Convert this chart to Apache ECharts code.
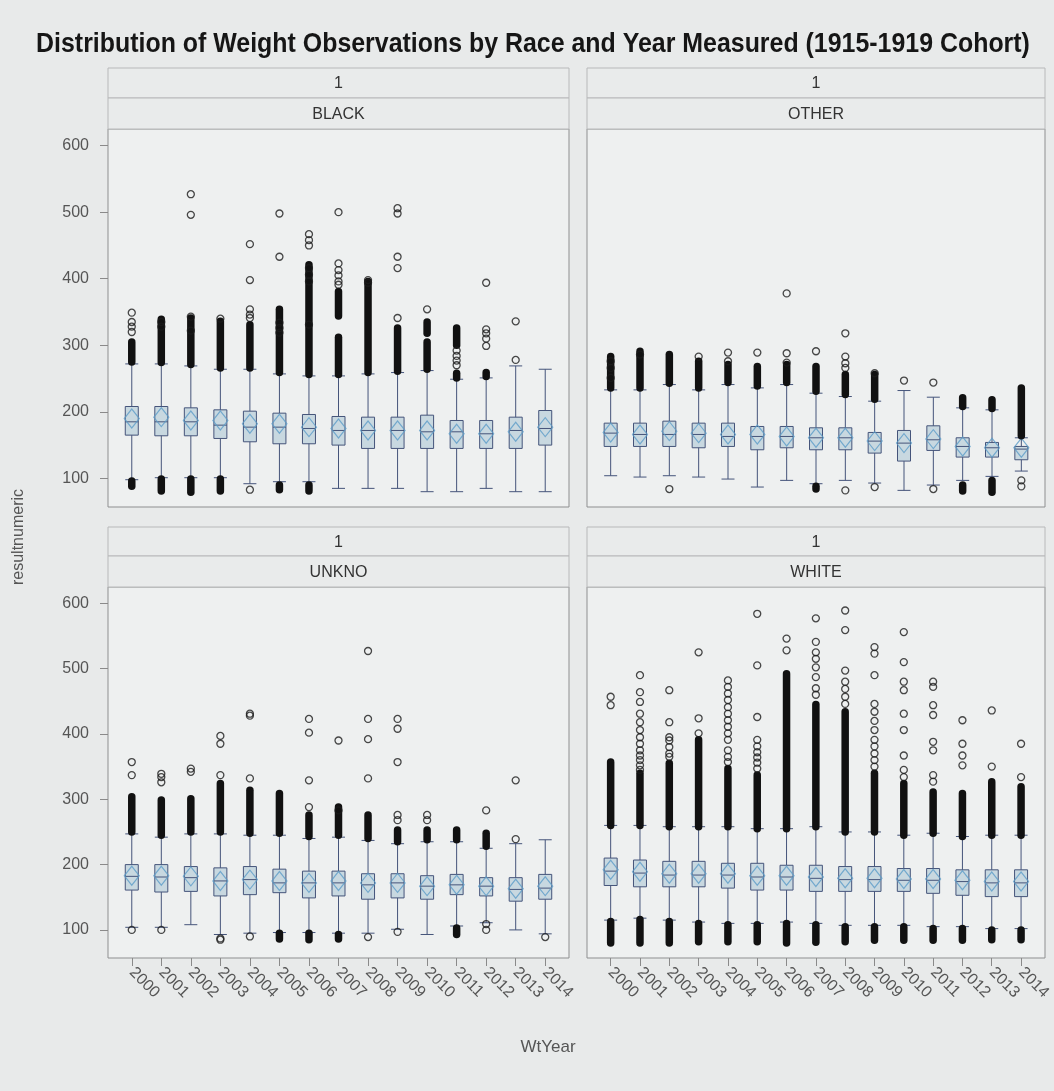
<!DOCTYPE html>
<html>
<head>
<meta charset="utf-8">
<title>Distribution of Weight Observations by Race and Year Measured</title>
<script src="https://cdn.jsdelivr.net/npm/echarts@6/dist/echarts.min.js"></script>
<style>
  html, body { margin: 0; padding: 0; background: #e8eaea; }
  #chart { width: 1054px; height: 1091px; }
</style>
</head>
<body>
<div id="chart"></div>
<script>
// ---- data -------------------------------------------------------------
const years = ['2000','2001','2002','2003','2004','2005','2006','2007','2008','2009','2010','2011','2012','2013','2014'];
const yTicks = [100, 200, 300, 400, 500, 600];
const cohortLabel = '1';
const panelNames = ['BLACK', 'OTHER', 'UNKNO', 'WHITE'];
const chartTitle = 'Distribution of Weight Observations by Race and Year Measured (1915-1919 Cohort)';

// box rows: [lower whisker, Q1, median, Q3, upper whisker]
const blackBox = [
  [98,165,185,208,272],[101,164,185,208,272],[101,164,185,206,269],[101,160,180,203,264],
  [92,155,177,201,264],[95,152,177,198,257],[95,152,175,196,254],[85,150,172,193,254],
  [85,145,172,192,257],[85,145,172,192,259],[80,145,170,195,262],[80,145,170,187,249],
  [85,145,167,187,251],[80,145,172,192,269],[80,150,175,202,264]
];
const blackMean = [190,192,187,187,182,182,177,175,172,172,172,167,167,170,177];
// runs of outliers too close together to separate: [year, from, to]
const blackDense = [
  ['2000',275,305],['2001',274,339],['2002',271,341],['2003',266,336],['2004',266,331],
  ['2005',259,354],['2006',256,421],['2007',256,312],['2007',344,381],['2008',259,396],
  ['2009',261,326],['2010',264,305],['2010',318,335],['2011',251,258],['2011',300,326],
  ['2012',253,259],
  ['2000',88,96],['2001',81,99],['2002',79,99],['2003',81,99],['2005',83,90],['2006',81,90]
];
const blackOutliers = [
  ['2000',349],['2000',335],['2000',328],['2000',320],
  ['2001',335],['2001',328],
  ['2002',527],['2002',496],['2002',343],['2002',322],
  ['2003',340],
  ['2004',452],['2004',398],['2004',354],['2004',346],['2004',341],['2004',83],
  ['2005',498],['2005',433],['2005',334],['2005',326],['2005',319],
  ['2006',467],['2006',458],['2006',450],['2006',416],['2006',406],['2006',396],['2006',331],
  ['2007',500],['2007',423],['2007',413],['2007',405],['2007',396],['2007',391],
  ['2008',398],['2008',394],
  ['2009',506],['2009',498],['2009',433],['2009',416],['2009',341],
  ['2010',354],
  ['2011',292],['2011',284],['2011',277],['2011',270],
  ['2012',394],['2012',324],['2012',318],['2012',310],['2012',299],
  ['2013',336],['2013',278]
];

const otherBox = [
  [104,148,168,183,233],[102,148,166,183,233],[104,148,166,186,241],[102,146,166,183,233],
  [99,148,163,183,241],[87,143,163,178,236],[97,146,163,178,241],[92,143,161,176,228],
  [97,143,161,176,223],[93,138,156,169,216],[82,126,153,172,232],[90,142,158,179,222],
  [97,132,148,161,206],[103,132,146,154,203],[111,128,144,148,161]
];
const otherMean = [169,166,171,168,166,166,163,161,161,156,153,159,148,146,146];
const otherDense = [
  ['2000',236,283],['2001',236,291],['2002',243,286],['2003',236,276],['2004',244,271],
  ['2005',239,268],['2006',244,271],['2007',231,268],['2008',226,256],['2009',219,256],
  ['2012',208,221],['2013',205,218],['2014',164,236],
  ['2007',84,88],['2012',81,90],['2013',79,97]
];
const otherOutliers = [
  ['2000',276],['2000',266],['2000',251],
  ['2001',286],
  ['2002',84],
  ['2003',283],
  ['2004',289],['2004',276],
  ['2005',289],
  ['2006',378],['2006',288],['2006',274],
  ['2007',291],
  ['2008',318],['2008',283],['2008',273],['2008',266],['2008',82],
  ['2009',258],['2009',87],
  ['2010',247],
  ['2011',244],['2011',84],
  ['2014',97],['2014',88]
];

const unknoBox = [
  [104,161,182,200,247],[104,158,181,200,242],[108,159,180,197,247],[93,152,175,195,247],
  [95,154,177,197,245],[96,157,172,193,245],[96,149,172,190,240],[95,152,172,190,242],
  [95,147,169,186,237],[101,149,172,186,232],[93,147,167,183,235],[106,154,169,185,235],
  [111,152,167,180,225],[100,144,162,180,232],[94,147,164,185,238]
];
const unknoMean = [183,183,182,175,177,175,172,175,172,172,167,169,167,163,167];
const unknoDense = [
  ['2000',250,304],['2001',245,299],['2002',250,301],['2003',250,324],['2004',248,314],
  ['2005',248,309],['2006',243,276],['2007',245,288],['2008',240,276],['2009',235,253],
  ['2010',238,253],['2011',238,253],['2012',228,248],
  ['2005',86,95],['2006',85,95],['2007',86,93],['2011',93,103]
];
const unknoOutliers = [
  ['2000',357],['2000',337],['2000',100],
  ['2001',339],['2001',334],['2001',326],['2001',100],
  ['2002',347],['2002',342],
  ['2003',397],['2003',385],['2003',337],['2003',87],['2003',85],
  ['2004',431],['2004',428],['2004',332],['2004',90],
  ['2006',423],['2006',402],['2006',329],['2006',288],
  ['2007',390],['2007',283],
  ['2008',527],['2008',423],['2008',392],['2008',332],['2008',89],
  ['2009',423],['2009',408],['2009',357],['2009',276],['2009',268],['2009',97],
  ['2010',276],['2010',268],
  ['2012',283],['2012',109],['2012',100],
  ['2013',329],['2013',239],
  ['2014',89]
];

const whiteBox = [
  [115,168,190,210,260],[118,166,187,207,260],[115,166,184,205,258],[112,166,184,205,258],
  [110,164,184,202,258],[110,161,181,202,255],[112,161,181,199,255],[110,159,179,199,258],
  [107,159,177,197,250],[107,159,177,197,250],[107,159,176,194,245],[105,156,176,194,248],
  [105,153,174,192,243],[102,151,172,192,245],[102,151,172,192,245]
];
const whiteMean = [192,189,186,186,186,183,183,181,179,179,178,178,176,174,174];
const whiteDense = [
  ['2000',260,357],['2001',260,340],['2002',258,355],['2003',258,391],['2004',258,347],
  ['2005',255,337],['2006',255,492],['2007',258,445],['2008',250,434],['2009',250,340],
  ['2010',245,324],['2011',248,311],['2012',243,309],['2013',245,327],['2014',245,319],
  ['2000',80,113],['2001',80,116],['2002',80,113],['2003',82,110],['2004',82,108],
  ['2005',82,108],['2006',80,110],['2007',81,108],['2008',82,105],['2009',84,105],
  ['2010',84,105],['2011',84,102],['2012',84,102],['2013',85,100],['2014',85,100]
];
const whiteOutliers = [
  ['2000',457],['2000',444],
  ['2001',490],['2001',464],['2001',449],['2001',431],['2001',418],['2001',406],['2001',395],
  ['2001',385],['2001',375],['2001',367],['2001',360],['2001',352],['2001',345],
  ['2002',467],['2002',418],['2002',395],['2002',390],['2002',380],['2002',370],['2002',365],
  ['2003',525],['2003',424],['2003',401],
  ['2004',482],['2004',472],['2004',462],['2004',452],['2004',441],['2004',431],['2004',421],
  ['2004',411],['2004',401],['2004',391],['2004',375],['2004',365],['2004',357],
  ['2005',584],['2005',505],['2005',426],['2005',391],['2005',381],['2005',372],['2005',364],
  ['2005',356],['2005',347],
  ['2006',546],['2006',528],
  ['2007',577],['2007',541],['2007',525],['2007',515],['2007',502],['2007',487],['2007',470],['2007',460],
  ['2008',589],['2008',559],['2008',497],['2008',480],['2008',469],['2008',457],['2008',446],
  ['2009',533],['2009',523],['2009',490],['2009',446],['2009',434],['2009',420],['2009',406],
  ['2009',391],['2009',381],['2009',370],['2009',360],['2009',350],
  ['2010',556],['2010',510],['2010',480],['2010',467],['2010',431],['2010',406],['2010',367],
  ['2010',345],['2010',334],
  ['2011',480],['2011',472],['2011',444],['2011',429],['2011',388],['2011',375],['2011',337],['2011',327],
  ['2012',421],['2012',385],['2012',367],['2012',352],
  ['2013',436],['2013',350],
  ['2014',385],['2014',334]
];

// ---- layout -------------------------------------------------------------
const Y_MIN = 57, Y_MAX = 625;
const FONT = '"Liberation Sans", Arial, sans-serif';
const frames = [
  { x: 108, y: 129, w: 461, h: 378, hdr: [68, 98] },
  { x: 587, y: 129, w: 458, h: 378, hdr: [68, 98] },
  { x: 108, y: 587, w: 461, h: 371, hdr: [527, 556] },
  { x: 587, y: 587, w: 458, h: 371, hdr: [527, 556] }
];
const INSET = 9;   // gap between frame edge and first/last category band

const panelData = [
  { box: blackBox, mean: blackMean, dense: blackDense, out: blackOutliers },
  { box: otherBox, mean: otherMean, dense: otherDense, out: otherOutliers },
  { box: unknoBox, mean: unknoMean, dense: unknoDense, out: unknoOutliers },
  { box: whiteBox, mean: whiteMean, dense: whiteDense, out: whiteOutliers }
];

const grids = [], xAxes = [], yAxes = [], series = [], graphics = [];

frames.forEach((f, i) => {
  const isLeft = i % 2 === 0;
  const isBottom = i >= 2;

  // panel background + frame
  graphics.push({
    type: 'rect', z: 0,
    shape: { x: f.x, y: f.y, width: f.w, height: f.h },
    style: { fill: '#eef0f0', stroke: '#8e8f90', lineWidth: 1 }
  });
  // two stacked header cells
  graphics.push({
    type: 'rect', z: 0,
    shape: { x: f.x, y: f.hdr[0], width: f.w, height: f.hdr[1] - f.hdr[0] },
    style: { fill: '#e9ebeb', stroke: '#b8b9ba', lineWidth: 1 }
  });
  graphics.push({
    type: 'rect', z: 0,
    shape: { x: f.x, y: f.hdr[1], width: f.w, height: f.y - f.hdr[1] },
    style: { fill: '#e9ebeb', stroke: '#b8b9ba', lineWidth: 1 }
  });
  graphics.push({
    type: 'text', z: 1,
    x: f.x + f.w / 2, y: (f.hdr[0] + f.hdr[1]) / 2 + 1,
    style: { text: cohortLabel, fill: '#333', font: '16px ' + FONT, align: 'center', verticalAlign: 'middle' }
  });
  graphics.push({
    type: 'text', z: 1,
    x: f.x + f.w / 2, y: (f.hdr[1] + f.y) / 2 + 1,
    style: { text: panelNames[i], fill: '#333', font: '16px ' + FONT, align: 'center', verticalAlign: 'middle' }
  });

  grids.push({ left: f.x + INSET, top: f.y, width: f.w - 2 * INSET, height: f.h });

  xAxes.push({
    type: 'category', gridIndex: i, data: years, boundaryGap: true,
    axisLine: { show: false },
    axisTick: { show: isBottom, alignWithLabel: true, interval: 0, length: 8, lineStyle: { color: '#8a8a8a' } },
    axisLabel: { show: isBottom, interval: 0, rotate: -45, fontSize: 16, color: '#555', margin: 12, fontFamily: FONT },
    splitLine: { show: false }
  });
  yAxes.push({
    type: 'value', gridIndex: i, min: Y_MIN, max: Y_MAX, offset: INSET,
    axisLine: { show: false },
    splitLine: { show: false },
    axisTick: { show: isLeft, customValues: yTicks, length: 8, lineStyle: { color: '#8a8a8a' } },
    axisLabel: { show: isLeft, customValues: yTicks, fontSize: 16, color: '#555', margin: 19, fontFamily: FONT }
  });

  const d = panelData[i];
  series.push({
    type: 'boxplot', xAxisIndex: i, yAxisIndex: i, z: 2,
    data: d.box, boxWidth: [13, 13],
    itemStyle: { color: '#c8d8e0', borderColor: '#45547a', borderWidth: 1 }
  });
  series.push({
    type: 'scatter', xAxisIndex: i, yAxisIndex: i, z: 3,
    data: d.mean.map((v, k) => [years[k], v]),
    symbol: 'diamond', symbolSize: [15, 19],
    itemStyle: { color: 'rgba(0,0,0,0)', borderColor: '#5d9cc8', borderWidth: 1.2 }
  });
  series.push({
    type: 'custom', xAxisIndex: i, yAxisIndex: i, z: 4,
    data: d.dense,
    encode: { x: 0, y: [1, 2] },
    renderItem: function (params, api) {
      const xi = api.value(0);
      const a = api.coord([xi, api.value(1)]);
      const b = api.coord([xi, api.value(2)]);
      return {
        type: 'line',
        shape: { x1: a[0], y1: a[1], x2: b[0], y2: b[1] },
        style: { stroke: '#111', lineWidth: 7.5, lineCap: 'round' }
      };
    }
  });
  series.push({
    type: 'scatter', xAxisIndex: i, yAxisIndex: i, z: 4,
    data: d.out,
    symbol: 'circle', symbolSize: 7,
    itemStyle: { color: 'rgba(0,0,0,0)', borderColor: '#1b1b1b', borderWidth: 1.3 }
  });
});

// chart title: bold, horizontally condensed around its centre
graphics.push({
  type: 'text', z: 1, x: 533, y: 44, scaleX: 0.89,
  style: { text: chartTitle, fill: '#161616', font: 'bold 28px ' + FONT, align: 'center', verticalAlign: 'middle' }
});
// shared axis titles
graphics.push({
  type: 'text', z: 1, x: 19, y: 537, rotation: Math.PI / 2,
  style: { text: 'resultnumeric', fill: '#555', font: '16px ' + FONT, align: 'center', verticalAlign: 'middle' }
});
graphics.push({
  type: 'text', z: 1, x: 548, y: 1047,
  style: { text: 'WtYear', fill: '#555', font: '17px ' + FONT, align: 'center', verticalAlign: 'middle' }
});

const chart = echarts.init(document.getElementById('chart'), null, { renderer: 'canvas' });
chart.setOption({
  backgroundColor: '#e8eaea',
  animation: false,
  tooltip: { show: false },
  grid: grids,
  xAxis: xAxes,
  yAxis: yAxes,
  graphic: graphics,
  series: series
});
</script>
</body>
</html>
